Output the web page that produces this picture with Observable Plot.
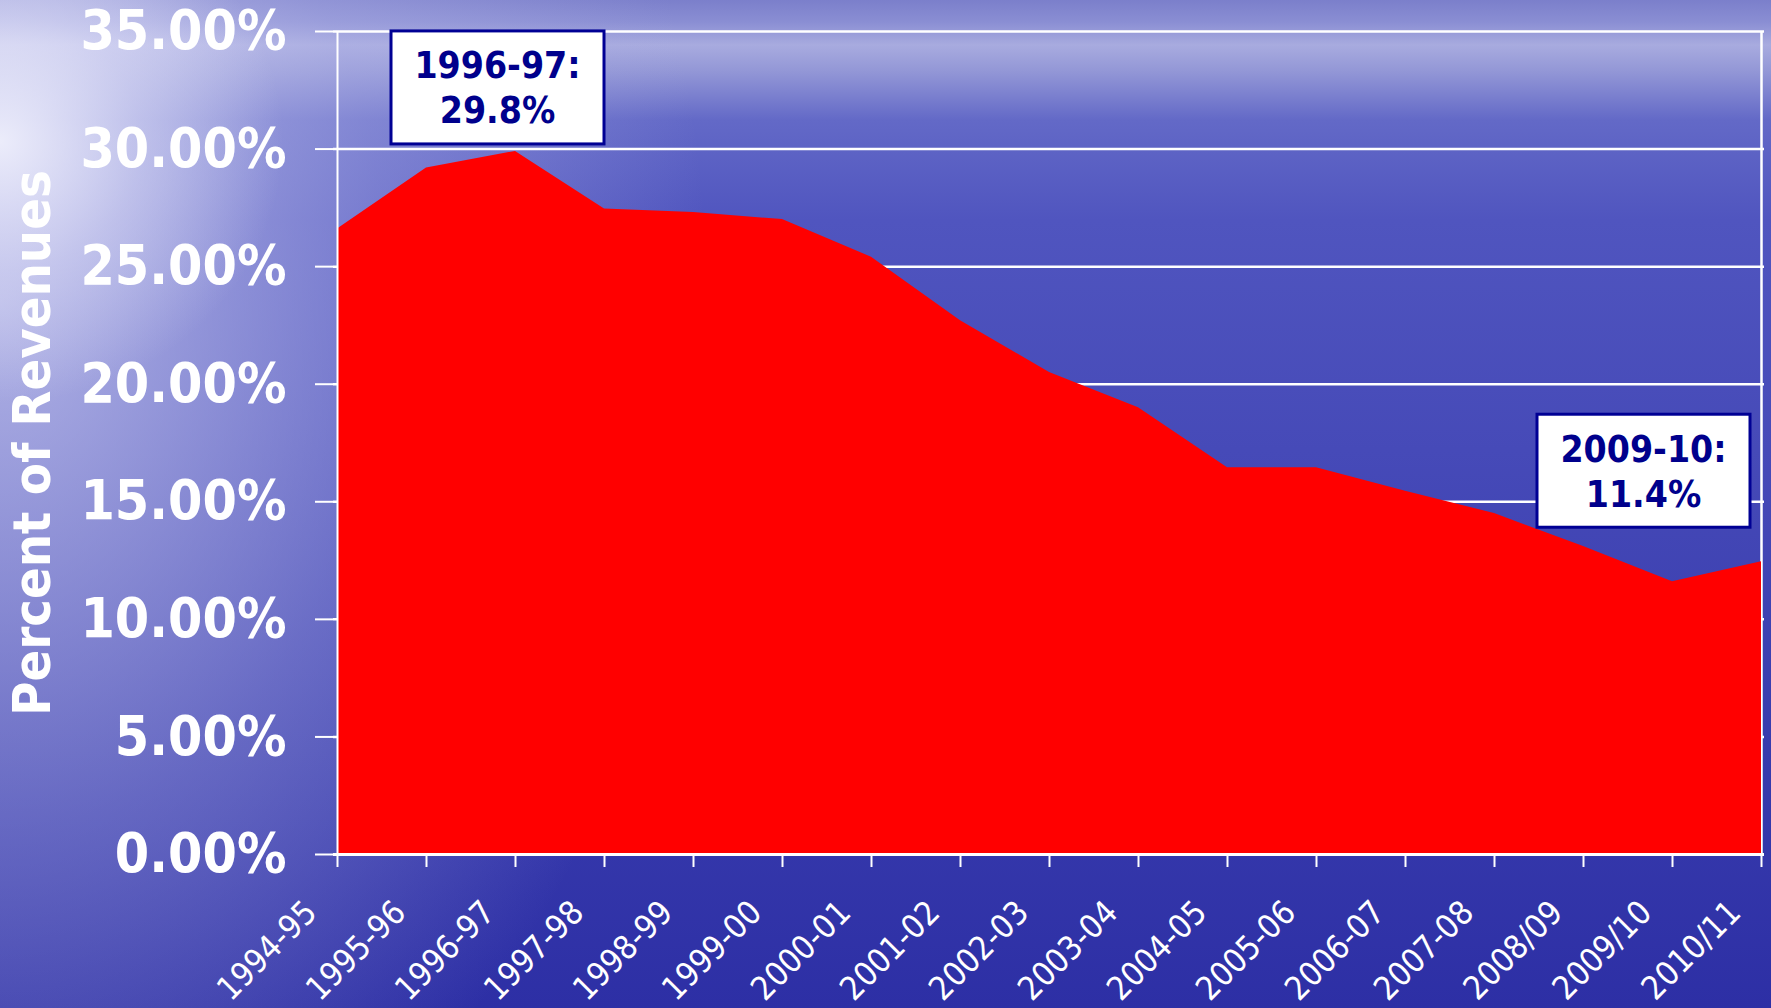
<!DOCTYPE html>
<html>
<head>
<meta charset="utf-8">
<script src="https://cdn.jsdelivr.net/npm/d3@7"></script>
<script src="https://cdn.jsdelivr.net/npm/@observablehq/plot@0.6"></script>
<style>
html, body { margin: 0; padding: 0; width: 1771px; height: 1008px; overflow: hidden; }
body {
  background:
    radial-gradient(ellipse 16% 26% at 0% 14%, rgba(248,248,255,0.85) 0%, rgba(232,232,250,0.45) 50%, rgba(220,220,248,0) 100%),
    radial-gradient(ellipse 40% 95% at 0% 30%, rgba(215,216,245,0.72) 0%, rgba(180,182,232,0.38) 55%, rgba(160,162,225,0) 100%),
    linear-gradient(to bottom, #7b7fcb 0px, #8a8ed3 22px, #a8abdf 45px, #9296d6 72px, #6369c7 120px, #5055bf 220px, #464ab8 450px, #383bad 750px, #2d2fa5 1008px);
}
#chart { position: absolute; left: 0; top: 0; }
</style>
</head>
<body>
<div id="chart"></div>
<script>
// ---- data ----
const years = ["1994-95","1995-96","1996-97","1997-98","1998-99","1999-00","2000-01","2001-02","2002-03","2003-04","2004-05","2005-06","2006-07","2007-08","2008/09","2009/10","2010/11"];
const shares = [26.6, 29.2, 29.9, 27.45, 27.3, 27.0, 25.4, 22.7, 20.5, 19.0, 16.45, 16.45, 15.45, 14.5, 13.1, 11.6, 12.45];
const yTicks = [0, 5, 10, 15, 20, 25, 30, 35];
const yTitle = "Percent of Revenues";
const calloutYears = ["1996-97", "2009/10"];
const calloutLines = [["1996-97:", "29.8%"], ["2009-10:", "11.4%"]];

// ---- layout / style ----
const FONT = '"DejaVu Sans Condensed", "Liberation Sans Narrow", "DejaVu Sans", sans-serif';
const calloutOffsets = [{dx: -124, dy: -120}, {dx: -135, dy: -167}];
const BOX_W = 213, BOX_H = 113;

const data = years.map((year, i) => ({year, value: shares[i]}));

const plot = Plot.plot({
  width: 1771,
  height: 1008,
  marginLeft: 333,
  marginRight: 7,
  marginTop: 31,
  marginBottom: 154,
  style: {background: "transparent", color: "white", overflow: "visible"},
  x: {type: "point", domain: years, padding: 0},
  y: {domain: [0, 35]},
  marks: [
    Plot.ruleY(yTicks, {stroke: "white", strokeWidth: 2.5}),
    Plot.ruleX([years[years.length - 1]], {stroke: "white", strokeWidth: 2.5}),
    Plot.areaY(data, {x: "year", y: "value", fill: "#ff0000"}),
    Plot.ruleX([years[0]], {stroke: "white", strokeWidth: 2}),
    Plot.ruleY([0], {stroke: "white", strokeWidth: 3}),
    Plot.axisY({
      ticks: yTicks, tickSize: 18, tickPadding: 29, strokeWidth: 2,
      tickFormat: d => d.toFixed(2) + "%", label: null,
      fontSize: 55, fontWeight: "bold", fontFamily: FONT, fill: "white", stroke: "white"
    }),
    Plot.axisX({tickSize: 13, strokeWidth: 2, stroke: "white", tickFormat: () => "", label: null}),
    Plot.text(years, {
      x: d => d, text: d => d, frameAnchor: "bottom", rotate: -45, textAnchor: "end",
      dx: -19, dy: 60, fill: "white", fontSize: 33, fontFamily: FONT
    }),
    Plot.text([yTitle], {
      frameAnchor: "left", text: d => d, rotate: -90, dx: -300, textAnchor: "middle",
      fill: "white", fontSize: 52, fontWeight: "bold", fontFamily: FONT
    })
  ]
});

document.getElementById("chart").appendChild(plot);

// callout boxes, anchored at data points through Plot's scales
const sx = plot.scale("x"), sy = plot.scale("y");
const svg = d3.select(plot);
calloutYears.forEach((yr, i) => {
  const v = shares[years.indexOf(yr)];
  const px = sx.apply(yr), py = sy.apply(v);
  const left = px + calloutOffsets[i].dx, top = py + calloutOffsets[i].dy;
  const g = svg.append("g");
  g.append("rect").attr("x", left).attr("y", top).attr("width", BOX_W).attr("height", BOX_H)
    .attr("fill", "white").attr("stroke", "#000094").attr("stroke-width", 3);
  calloutLines[i].forEach((line, j) => {
    g.append("text").attr("x", left + BOX_W / 2).attr("y", top + 34 + j * 45)
      .attr("dy", "0.36em").attr("text-anchor", "middle")
      .attr("fill", "#00008c").attr("font-family", FONT).attr("font-weight", "bold")
      .attr("font-size", 37).text(line);
  });
});
</script>
</body>
</html>
